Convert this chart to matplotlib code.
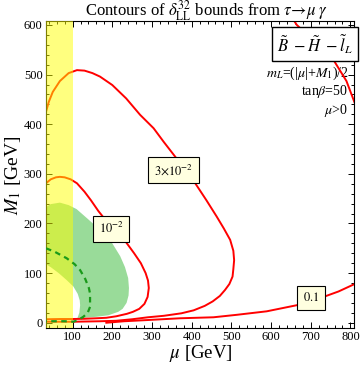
import matplotlib
matplotlib.use("Agg")
import matplotlib.pyplot as plt
from matplotlib.ticker import MultipleLocator

plt.rcParams['font.family'] = ['Liberation Serif', 'DejaVu Serif']
plt.rcParams['mathtext.fontset'] = 'stix'

# ---- data ----
# contour 10^-2
c1_mu = [33, 45, 58, 68, 80, 95, 111, 130, 146, 165, 190, 212, 234, 255, 272, 284, 290, 292, 289, 281, 268, 252, 237, 210, 185, 160, 130, 100, 70, 33]
c1_m1 = [281, 289, 293, 294, 293, 289, 281, 264, 247, 225, 200, 182, 163, 140, 120, 100, 85, 70, 52, 38, 28, 22, 18, 13, 10, 9, 8, 7.5, 7.5, 7]
# contour 3x10^-2
c2_mu = [33, 40, 50, 68, 90, 111, 130, 150, 169, 200, 235, 270, 304, 330, 362, 385, 409, 437, 463, 481, 497, 505, 507, 505, 503, 495, 484, 471, 453, 433, 405, 374, 330, 290, 250, 210, 170, 100, 33]
c2_m1 = [425, 445, 465, 487, 503, 509, 508, 503, 496, 479, 452, 419, 392, 364, 331, 306, 281, 247, 214, 190, 167, 145, 126, 108, 93, 78, 66, 54, 43, 34, 25, 19, 14, 11, 7, 4, 3, 2, 2]
# contour 0.1 (lower and upper branch)
c3a_mu = [185, 230, 290, 371, 455, 514, 589, 669, 732, 770, 816]
c3a_m1 = [0, 3, 5.5, 9, 11, 16, 23, 36, 52, 63, 80]
c3b_mu = [655, 665, 710, 757, 790, 816, 825]
c3b_m1 = [612, 600, 566, 530, 487, 432, 410]
# green allowed band
g_out_mu = [33, 45, 68, 90, 110, 140, 169, 200, 220, 232, 240, 242, 241, 236, 226, 215, 190, 160, 130, 112]
g_out_m1 = [233, 239, 242, 237, 229, 208, 187, 160, 134, 112, 90, 70, 55, 40, 28, 22, 15, 12, 10, 9]
g_in_mu = [112, 117, 119, 118, 113, 102, 85, 65, 45, 33]
g_in_m1 = [9, 20, 35, 45, 58, 73, 86, 100, 112, 118]
# green dashed curve
gd_mu = [33, 55, 85, 105, 119, 132, 141, 144, 144, 138, 127, 115, 102, 80, 55, 33]
gd_m1 = [150, 143, 130, 118, 106, 88, 70, 59, 32, 20, 12, 6, 2, 3, 3, 3]
# excluded band in mu
band_mu = [0, 100]

contour_labels = ["$10^{-2}$", r"$3{\times}10^{-2}$", "$0.1$"]

fig = plt.figure(figsize=(3.6, 3.71), dpi=100)
ax = fig.add_axes([46/360, 1-327.7/371, (354-46)/360, (327.7-21)/371])

ax.fill(g_out_mu + g_in_mu, g_out_m1 + g_in_m1, color=(0.6, 0.86, 0.6), lw=0, zorder=1)

red = '#ff0000'
ax.plot(c1_mu, c1_m1, color=red, lw=1.4, zorder=2, solid_joinstyle='round')
ax.plot(c2_mu, c2_m1, color=red, lw=1.4, zorder=2, solid_joinstyle='round')
ax.plot(c3a_mu, c3a_m1, color=red, lw=1.4, zorder=2, solid_joinstyle='round')
ax.plot(c3b_mu, c3b_m1, color=red, lw=1.4, zorder=2.5, solid_joinstyle='round')

ax.axvspan(band_mu[0], band_mu[1], color=(1, 1, 0), alpha=0.5, lw=0, zorder=3)

ax.plot(gd_mu, gd_m1, color='#1a9a1a', lw=1.6, dashes=(2.5, 2.0), zorder=4)

box = dict(boxstyle='square,pad=0.45', fc='#ffffe0', ec='black', lw=0.8)
ax.text(197, 189, contour_labels[0], fontsize=9, ha='center', va='center', bbox=box, zorder=6)
ax.text(354, 307, contour_labels[1], fontsize=9, ha='center', va='center', bbox=box, zorder=6)
ax.text(700, 50, contour_labels[2], fontsize=9, ha='center', va='center', bbox=box, zorder=6)

ax.set_xlim(33, 809)
ax.set_ylim(-10, 608)
ax.xaxis.set_major_locator(MultipleLocator(100))
ax.xaxis.set_minor_locator(MultipleLocator(20))
ax.yaxis.set_major_locator(MultipleLocator(100))
ax.yaxis.set_minor_locator(MultipleLocator(20))
ax.tick_params(which='both', direction='in', top=True, right=True, labelsize=9, width=0.7, pad=2.5)
ax.tick_params(which='major', length=4)
ax.tick_params(which='minor', length=2)
for s in ax.spines.values():
    s.set_linewidth(0.8)

fig.text(206/360, 1-11/371, r"Contours of $\delta^{32}_{\rm LL}$ bounds from $\tau\!\rightarrow\!\mu\;\gamma$",
         ha='center', va='center', fontsize=12)
fig.text(201/360, 1-354/371, r"$\mu$ [GeV]", ha='center', va='center', fontsize=13.5)
fig.text(13/360, 1-175/371, r"$M_1$ [GeV]", ha='center', va='center', fontsize=14, rotation=90)

ax.text(711, 562, r"$\tilde{B}\ -\tilde{H}\ -\tilde{l}_L$", fontsize=12, ha='center', va='center',
        bbox=dict(boxstyle='square,pad=0.3', fc='white', ec='black', lw=1.0), zorder=5)
ax.text(795, 502, r"$m_L$=(|$\mu$|+$M_1$)/2", fontsize=10, ha='right', va='center', zorder=2.2)
ax.text(795, 466, r"tan$\beta$=50", fontsize=10, ha='right', va='center', zorder=2.2)
ax.text(795, 428, r"$\mu$>0", fontsize=10, ha='right', va='center', zorder=2.2)

fig.savefig("out.png", dpi=100)
